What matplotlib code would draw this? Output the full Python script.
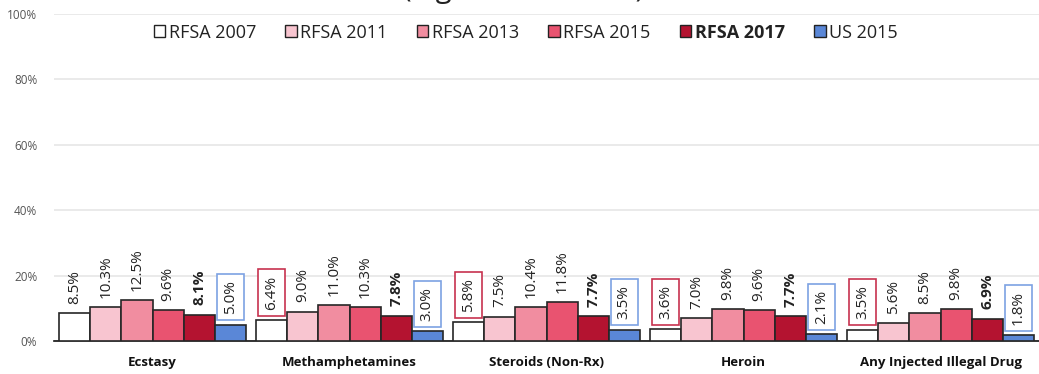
import numpy as np
import matplotlib.pyplot as plt
from matplotlib.patches import Patch

plt.rcParams['font.family'] = ['Open Sans', 'DejaVu Sans']

categories = ['Ecstasy', 'Methamphetamines', 'Steroids (Non-Rx)', 'Heroin', 'Any Injected Illegal Drug']
series_names = ['RFSA 2007', 'RFSA 2011', 'RFSA 2013', 'RFSA 2015', 'RFSA 2017', 'US 2015']
rfsa_2007 = [8.5, 6.4, 5.8, 3.6, 3.5]
rfsa_2011 = [10.3, 9.0, 7.5, 7.0, 5.6]
rfsa_2013 = [12.5, 11.0, 10.4, 9.8, 8.5]
rfsa_2015 = [9.6, 10.3, 11.8, 9.6, 9.8]
rfsa_2017 = [8.1, 7.8, 7.7, 7.7, 6.9]
us_2015 = [5.0, 3.0, 3.5, 2.1, 1.8]
# RFSA 2007 values that get a red frame (flagged)
flag_2007 = [False, True, True, True, True]

series = [rfsa_2007, rfsa_2011, rfsa_2013, rfsa_2015, rfsa_2017, us_2015]
colors = ['#FFFFFF', '#F8C5D0', '#F18DA0', '#E95370', '#B41330', '#5A87D7']

fig = plt.figure(figsize=(10.39, 3.74), dpi=100)
ax = fig.add_axes([0.052, 0.088, 0.948, 0.875])

x = np.arange(len(categories))
w = 0.158
offsets = (np.arange(6) - 2.5) * w

for i, (vals, col) in enumerate(zip(series, colors)):
    ax.bar(x + offsets[i], vals, width=w, color=col, edgecolor='#262626', linewidth=1.2, zorder=3)
    for j, v in enumerate(vals):
        kw = dict(rotation=90, ha='center', va='bottom', fontsize=11, color='#222222', zorder=4)
        if i == 4:
            kw['fontweight'] = 'bold'
        if i == 5:
            kw['bbox'] = dict(boxstyle='square,pad=0.4', fc='white', ec='#7DA2E3', lw=1.2)
            y = v + 3.2
        elif i == 0 and flag_2007[j]:
            kw['bbox'] = dict(boxstyle='square,pad=0.4', fc='white', ec='#C7324F', lw=1.2)
            y = v + 3.2
        else:
            y = v + 2.8
        ax.text(x[j] + offsets[i], y, f'{v:.1f}%', **kw)

ax.set_xlim(-0.5, len(categories) - 0.5)
ax.set_ylim(0, 100)
ax.set_yticks(np.arange(0, 101, 20))
ax.set_yticklabels([f'{t}%' for t in range(0, 101, 20)], fontsize=8.5, color='#555555')
ax.set_xticks(x)
ax.set_xticklabels(categories, fontsize=9.5, fontweight='bold', color='#111111')
ax.tick_params(axis='both', length=0)
ax.tick_params(axis='x', pad=11)
ax.tick_params(axis='y', pad=12)
ax.grid(axis='y', color='#E6E6E6', lw=1.2, zorder=0)
for s in ['top', 'right', 'left']:
    ax.spines[s].set_visible(False)
ax.spines['bottom'].set_color('#111111')
ax.spines['bottom'].set_linewidth(1.2)

handles = [Patch(facecolor=c, edgecolor='#222222', lw=1.0) for c in colors]
leg = fig.legend(handles, series_names, loc='center', bbox_to_anchor=(0.506, 0.913), ncol=6,
                 frameon=False, fontsize=13, handlelength=0.65, handleheight=0.65,
                 handletextpad=0.2, columnspacing=1.6)
for t in leg.get_texts():
    t.set_color('#222222')
    if t.get_text() == 'RFSA 2017':
        t.set_fontweight('bold')

fig.text(0.504, 1.007, '(e.g. Lifetime Use)', ha='center', va='baseline', fontsize=21, color='#222222')

fig.savefig('out.png', dpi=100)
